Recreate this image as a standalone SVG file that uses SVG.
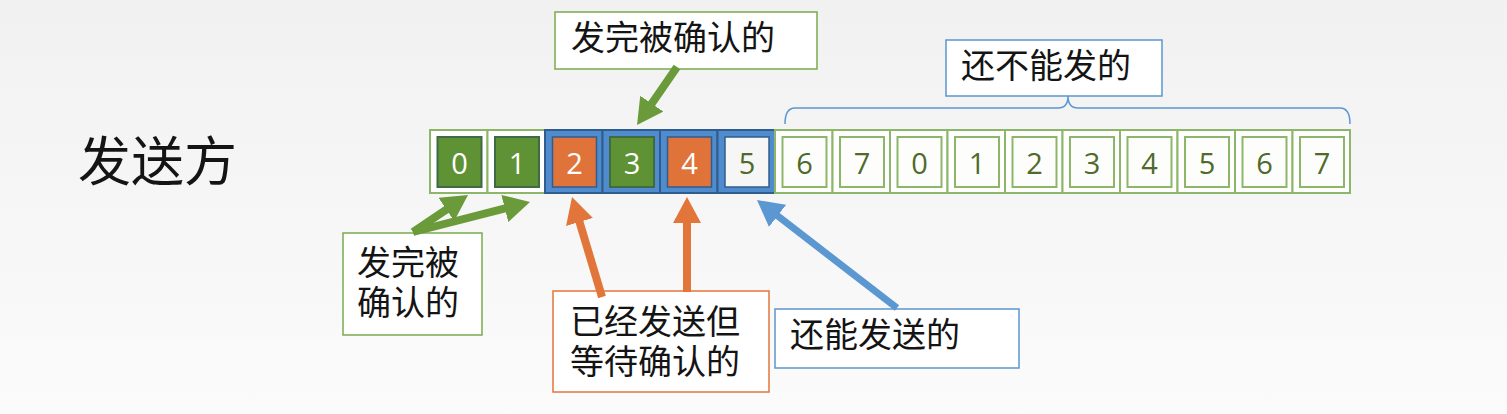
<svg xmlns="http://www.w3.org/2000/svg" width="1507" height="414" viewBox="0 0 1507 414">
<defs>
<linearGradient id="bg" x1="0" y1="0" x2="0" y2="1">
<stop offset="0" stop-color="#f1f1f1"/><stop offset="1" stop-color="#fbfbfb"/>
</linearGradient>
<marker id="ag" viewBox="0 0 26 28" markerWidth="26" markerHeight="28" refX="16" refY="14" orient="auto" markerUnits="userSpaceOnUse"><path d="M0,0 L26,14 L0,28 z" fill="#6a9a3a"/></marker>
<marker id="ao" viewBox="0 0 26 28" markerWidth="26" markerHeight="28" refX="16" refY="14" orient="auto" markerUnits="userSpaceOnUse"><path d="M0,0 L26,14 L0,28 z" fill="#e2763a"/></marker>
<marker id="ab" viewBox="0 0 26 28" markerWidth="26" markerHeight="28" refX="16" refY="14" orient="auto" markerUnits="userSpaceOnUse"><path d="M0,0 L26,14 L0,28 z" fill="#5b97d0"/></marker>
</defs>
<style>
.cjk{font-family:"Noto Sans CJK SC","Noto Sans",sans-serif;fill:#141414}
.lbl{font-size:34px}
.num{font-family:"Open Sans","Liberation Sans",sans-serif;font-size:29px;text-anchor:middle}
.wo{fill:#ffffff;stroke:#8db768;stroke-width:2}
.wi{fill:#fdfefb;stroke:#8db768;stroke-width:2}
.bo{fill:#4f8bcd;stroke:#2f5e8e;stroke-width:2}
.gi{fill:#5f9235;stroke:#3f6a46;stroke-width:2}
.oi{fill:#e0733a;stroke:#2f5e8e;stroke-width:1.5}
.bi{fill:#f6f6f6;stroke:#2f5e8e;stroke-width:1.5}
.tw{fill:#ffffff}
.tg{fill:#4f6a2c}
.box{fill:#ffffff;stroke-width:1.5}
</style>
<rect width="1507" height="414" fill="url(#bg)"/>

<text x="78" y="181" class="cjk" font-size="53">发送方</text>

<g id="cells">
<g id="c0"><rect x="430" y="130" width="57.5" height="63" class="wo"/><rect x="437.5" y="137" width="44" height="50" class="gi"/><text x="459.5" y="174" class="num tw">0</text></g>
<g id="c1"><rect x="487.5" y="130" width="57.5" height="63" class="wo"/><rect x="495" y="137" width="44" height="50" class="gi"/><text x="517" y="174" class="num tw">1</text></g>
<g id="c2"><rect x="545" y="130" width="57.5" height="63" class="bo"/><rect x="552.5" y="137" width="44" height="50" class="oi"/><text x="574.5" y="174" class="num tw">2</text></g>
<g id="c3"><rect x="602.5" y="130" width="57.5" height="63" class="bo"/><rect x="610" y="137" width="44" height="50" class="gi"/><text x="632" y="174" class="num tw">3</text></g>
<g id="c4"><rect x="660" y="130" width="57.5" height="63" class="bo"/><rect x="667.5" y="137" width="44" height="50" class="oi"/><text x="689.5" y="174" class="num tw">4</text></g>
<g id="c5"><rect x="717.5" y="130" width="57.5" height="63" class="bo"/><rect x="725" y="137" width="44" height="50" class="bi"/><text x="747" y="174" class="num tg">5</text></g>
<g id="c6"><rect x="775" y="130" width="57.5" height="63" class="wo"/><rect x="782.5" y="137" width="44" height="50" class="wi"/><text x="804.5" y="174" class="num tg">6</text></g>
<g id="c7"><rect x="832.5" y="130" width="57.5" height="63" class="wo"/><rect x="840" y="137" width="44" height="50" class="wi"/><text x="862" y="174" class="num tg">7</text></g>
<g id="c8"><rect x="890" y="130" width="57.5" height="63" class="wo"/><rect x="897.5" y="137" width="44" height="50" class="wi"/><text x="919.5" y="174" class="num tg">0</text></g>
<g id="c9"><rect x="947.5" y="130" width="57.5" height="63" class="wo"/><rect x="955" y="137" width="44" height="50" class="wi"/><text x="977" y="174" class="num tg">1</text></g>
<g id="c10"><rect x="1005" y="130" width="57.5" height="63" class="wo"/><rect x="1012.5" y="137" width="44" height="50" class="wi"/><text x="1034.5" y="174" class="num tg">2</text></g>
<g id="c11"><rect x="1062.5" y="130" width="57.5" height="63" class="wo"/><rect x="1070" y="137" width="44" height="50" class="wi"/><text x="1092" y="174" class="num tg">3</text></g>
<g id="c12"><rect x="1120" y="130" width="57.5" height="63" class="wo"/><rect x="1127.5" y="137" width="44" height="50" class="wi"/><text x="1149.5" y="174" class="num tg">4</text></g>
<g id="c13"><rect x="1177.5" y="130" width="57.5" height="63" class="wo"/><rect x="1185" y="137" width="44" height="50" class="wi"/><text x="1207" y="174" class="num tg">5</text></g>
<g id="c14"><rect x="1235" y="130" width="57.5" height="63" class="wo"/><rect x="1242.5" y="137" width="44" height="50" class="wi"/><text x="1264.5" y="174" class="num tg">6</text></g>
<g id="c15"><rect x="1292.5" y="130" width="57.5" height="63" class="wo"/><rect x="1300" y="137" width="44" height="50" class="wi"/><text x="1322" y="174" class="num tg">7</text></g>
</g>

<g id="label-top"><rect x="555" y="12" width="262" height="57" class="box" stroke="#7aaa4c"/><text x="571" y="50" class="cjk lbl">发完被确认的</text></g>
<g id="label-cannot"><rect x="946" y="40" width="216" height="56" class="box" stroke="#5b97d0"/><text x="961" y="78" class="cjk lbl">还不能发的</text></g>
<g id="label-left"><rect x="343" y="233" width="139" height="102" class="box" stroke="#7aaa4c"/><text x="357" y="275" class="cjk lbl"><tspan x="357" y="275">发完被</tspan><tspan x="357" y="315">确认的</tspan></text></g>
<g id="label-orange"><rect x="553" y="291" width="216" height="101" class="box" stroke="#e2763a"/><text x="570" y="334" class="cjk lbl"><tspan x="570" y="334">已经发送但</tspan><tspan x="570" y="374">等待确认的</tspan></text></g>
<g id="label-blue"><rect x="775" y="309" width="244" height="59" class="box" stroke="#5b97d0"/><text x="790" y="347" class="cjk lbl">还能发送的</text></g>

<g id="connectors" fill="none">
<path d="M785,124 Q785,108 795,108 L1058,108 Q1068,108 1068,96 Q1068,108 1078,108 L1340,108 Q1350,108 1350,124" stroke="#5b97d0" stroke-width="1.5"/>
<line x1="677" y1="67" x2="642.7" y2="116.8" stroke="#6a9a3a" stroke-width="8" marker-end="url(#ag)"/>
<line x1="413" y1="232" x2="459.7" y2="200.6" stroke="#6a9a3a" stroke-width="8" marker-end="url(#ag)"/>
<line x1="413" y1="232" x2="520.3" y2="204.5" stroke="#6a9a3a" stroke-width="8" marker-end="url(#ag)"/>
<line x1="602" y1="297" x2="574.9" y2="206.6" stroke="#e2763a" stroke-width="8" marker-end="url(#ao)"/>
<line x1="687" y1="292" x2="687" y2="207" stroke="#e2763a" stroke-width="8" marker-end="url(#ao)"/>
<line x1="897" y1="308" x2="764.9" y2="206.1" stroke="#5b97d0" stroke-width="7" marker-end="url(#ab)"/>
</g>
</svg>
